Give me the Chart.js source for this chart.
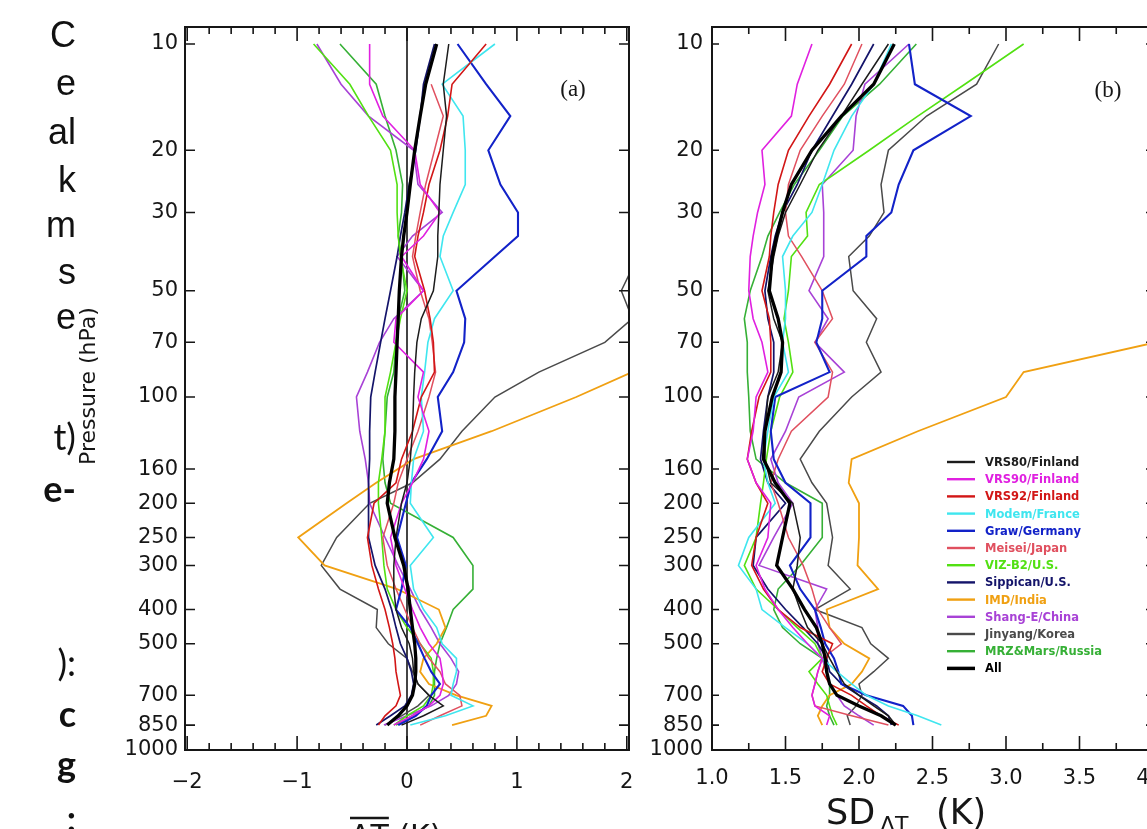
<!DOCTYPE html>
<html>
<head>
<meta charset="utf-8">
<title>Radiosonde temperature bias and SD profiles</title>
<script src="https://cdn.jsdelivr.net/npm/chart.js@4.4.1/dist/chart.umd.min.js"></script>
<style>
  html, body { margin: 0; padding: 0; background: #fff; }
  #page { position: relative; width: 1147px; height: 829px; overflow: hidden; background: #fff; }
  #chartA { position: absolute; left: 0; top: 0; }
  #chartB { position: absolute; left: 640px; top: 0; }
  .frag { position: absolute; right: 1071px; white-space: nowrap; color: #111; font-size: 36px; line-height: 36px; }
  .sans { font-family: "Liberation Sans", Arial, sans-serif; }
  .cal { font-family: Lato, "Open Sans", sans-serif; }
  .b { font-weight: 700; }
</style>
</head>
<body>
<div id="page">
  <canvas id="chartA" width="660" height="829"></canvas>
  <canvas id="chartB" width="560" height="829"></canvas>

  <!-- tail ends of the neighbouring text column -->
  <div class="frag sans" style="top:17px">C</div>
  <div class="frag sans" style="top:65px">e</div>
  <div class="frag sans" style="top:114px">al</div>
  <div class="frag sans" style="top:162px">k</div>
  <div class="frag sans" style="top:207px">m</div>
  <div class="frag sans" style="top:254px">s</div>
  <div class="frag sans" style="top:299px">e</div>
  <div class="frag cal" style="top:418px">t)</div>
  <div class="frag cal b" style="top:470px">e-</div>
  <div class="frag cal" style="top:644px">):</div>
  <div class="frag cal b" style="top:695px">c</div>
  <div class="frag cal b" style="top:745px">g</div>
  <div class="frag cal b" style="top:800px">:</div>
</div>

<script>
// pressure levels (hPa) shared by every profile
const pressureLevels = [10, 13, 16, 20, 25, 30, 35, 40, 50, 60, 70, 85, 100, 125, 150, 175, 200, 250, 300, 350, 400, 450, 500, 550, 600, 650, 700, 750, 800, 850];
const pressureTicks = [10, 20, 30, 50, 70, 100, 160, 200, 250, 300, 400, 500, 700, 850, 1000];
const biasTicks = [-2, -1, 0, 1, 2];
const sdTicks = [1.0, 1.5, 2.0, 2.5, 3.0, 3.5, 4.0];

const sondeNames = ['VRS80/Finland', 'VRS90/Finland', 'VRS92/Finland', 'Modem/France', 'Graw/Germany', 'Meisei/Japan',
  'VIZ-B2/U.S.', 'Sippican/U.S.', 'IMD/India', 'Shang-E/China', 'Jinyang/Korea', 'MRZ&Mars/Russia', 'All'];
const sondeColors = ['#1c1c1c', '#e020e0', '#d21616', '#3fe6ef', '#1222c8', '#e0505f',
  '#52e012', '#14146a', '#f0a012', '#a842d6', '#4a4a4a', '#36b036', '#000000'];
const sondeWidths = [1.5, 1.6, 1.6, 1.6, 2.1, 1.5, 1.6, 1.7, 1.8, 1.6, 1.5, 1.6, 3.3];

// (a) mean temperature difference, K
const biasVRS80    = [0.38, 0.33, 0.36, 0.33, 0.30, 0.29, 0.28, 0.28, 0.24, 0.13, 0.09, 0.07, 0.06, 0.05, 0.03, 0.00, -0.05, -0.10, -0.12, -0.12, -0.10, -0.05, 0.02, 0.05, 0.06, 0.10, 0.20, 0.33, 0.15, -0.05];
const biasVRS90    = [-0.34, -0.34, -0.22, 0.07, 0.12, 0.30, 0.15, -0.05, 0.15, -0.10, -0.12, 0.15, 0.10, 0.20, 0.15, 0.05, -0.05, -0.15, -0.10, -0.02, 0.05, 0.12, 0.20, 0.30, 0.32, 0.33, 0.30, 0.20, 0.05, -0.12];
const biasVRS92    = [0.72, 0.41, 0.37, 0.30, 0.20, 0.15, 0.10, 0.07, 0.16, 0.21, 0.24, 0.25, 0.13, 0.05, -0.05, -0.10, -0.30, -0.36, -0.32, -0.26, -0.20, -0.16, -0.13, -0.11, -0.10, -0.08, -0.06, -0.10, -0.20, -0.26];
const biasModem    = [0.80, 0.32, 0.51, 0.53, 0.53, 0.42, 0.33, 0.30, 0.42, 0.25, 0.19, 0.16, 0.13, 0.15, 0.06, 0.04, 0.03, 0.24, 0.03, 0.06, 0.15, 0.27, 0.32, 0.45, 0.45, 0.42, 0.40, 0.60, 0.35, 0.03];
const biasGraw     = [0.46, 0.72, 0.94, 0.74, 0.85, 1.01, 1.01, 0.80, 0.45, 0.53, 0.52, 0.42, 0.28, 0.32, 0.18, 0.04, -0.01, -0.09, -0.01, -0.05, -0.10, 0.03, 0.10, 0.16, 0.22, 0.30, 0.22, 0.18, 0.08, -0.08];
const biasMeisei   = [null, 0.22, 0.33, 0.25, 0.17, 0.12, 0.08, 0.05, 0.12, 0.20, 0.23, 0.26, 0.20, 0.10, 0.00, -0.08, -0.12, -0.22, -0.18, -0.10, -0.02, 0.05, 0.12, 0.20, 0.30, 0.35, 0.48, 0.50, 0.30, 0.12];
const biasVIZ      = [-0.85, -0.52, -0.35, -0.15, -0.09, -0.09, -0.08, -0.06, 0.00, -0.06, -0.10, -0.15, -0.20, -0.20, -0.23, -0.26, -0.26, -0.23, -0.21, -0.18, -0.10, 0.00, 0.12, 0.22, 0.24, 0.24, 0.22, 0.15, 0.00, -0.12];
const biasSippican = [0.25, 0.15, 0.12, 0.08, 0.02, -0.02, -0.06, -0.09, -0.15, -0.20, -0.24, -0.29, -0.33, -0.34, -0.34, -0.35, -0.35, -0.35, -0.29, -0.20, -0.14, -0.10, -0.06, 0.00, 0.04, 0.06, 0.04, -0.02, -0.15, -0.28];
const biasIMD      = [2.60, 2.60, 2.60, 2.60, 2.60, 2.60, 2.60, 2.60, 2.60, 2.60, 2.45, 2.05, 1.54, 0.77, 0.06, -0.28, -0.55, -0.99, -0.75, -0.09, 0.29, 0.35, 0.27, 0.15, 0.12, 0.20, 0.45, 0.77, 0.72, 0.41];
const biasShang    = [-0.82, -0.60, -0.35, 0.06, 0.10, 0.32, 0.05, -0.09, 0.15, -0.12, -0.25, -0.36, -0.46, -0.43, -0.38, -0.35, -0.34, -0.20, -0.08, 0.03, 0.12, 0.22, 0.30, 0.40, 0.47, 0.45, 0.38, 0.22, 0.00, -0.21];
const biasJinyang  = [2.60, 2.50, 2.40, 2.30, 2.30, 2.20, 2.20, 2.10, 1.95, 2.05, 1.80, 1.20, 0.80, 0.50, 0.30, 0.05, -0.34, -0.64, -0.78, -0.61, -0.27, -0.28, -0.17, 0.00, 0.05, 0.10, 0.20, 0.10, -0.05, -0.20];
const biasMRZ      = [-0.61, -0.28, -0.20, -0.10, -0.04, -0.05, -0.08, -0.05, -0.02, -0.08, -0.10, -0.12, -0.18, -0.20, -0.22, -0.20, -0.15, 0.42, 0.60, 0.60, 0.42, 0.36, 0.30, 0.27, 0.25, 0.25, 0.25, 0.20, 0.05, -0.10];
const biasAll      = [0.27, 0.17, 0.12, 0.07, 0.03, 0.00, -0.03, -0.05, -0.07, -0.08, -0.09, -0.10, -0.11, -0.11, -0.12, -0.16, -0.18, -0.11, -0.03, 0.01, 0.03, 0.05, 0.07, 0.08, 0.08, 0.07, 0.05, 0.00, -0.08, -0.18];

// (b) standard deviation of the difference, K
const sdVRS80    = [2.20, 2.02, 1.88, 1.72, 1.60, 1.50, 1.45, 1.42, 1.38, 1.42, 1.48, 1.45, 1.38, 1.36, 1.36, 1.40, 1.55, 1.60, 1.58, 1.55, 1.60, 1.65, 1.75, 1.80, 1.85, 1.90, 2.00, 2.10, 2.20, 2.25];
const sdVRS90    = [1.68, 1.58, 1.54, 1.34, 1.36, 1.31, 1.28, 1.26, 1.25, 1.28, 1.34, 1.38, 1.30, 1.28, 1.24, 1.30, 1.40, 1.38, 1.30, 1.36, 1.45, 1.55, 1.65, 1.75, 1.72, 1.70, 1.68, 1.70, 1.80, 1.78];
const sdVRS92    = [1.95, 1.80, 1.66, 1.52, 1.45, 1.42, 1.40, 1.39, 1.34, 1.39, 1.40, 1.40, 1.32, 1.27, 1.24, 1.30, 1.38, 1.30, 1.27, 1.35, 1.45, 1.60, 1.82, 1.78, 1.75, 1.80, 1.95, 2.05, 2.15, 2.27];
const sdModem    = [2.22, 2.10, 1.95, 1.83, 1.75, 1.68, 1.55, 1.48, 1.50, 1.50, 1.48, 1.52, 1.42, 1.38, 1.35, 1.38, 1.43, 1.25, 1.18, 1.30, 1.34, 1.50, 1.65, 1.75, 1.85, 1.95, 2.05, 2.20, 2.40, 2.56];
const sdGraw     = [2.34, 2.38, 2.76, 2.37, 2.27, 2.22, 2.05, 2.05, 1.75, 1.75, 1.71, 1.80, 1.43, 1.40, 1.42, 1.50, 1.67, 1.67, 1.53, 1.60, 1.70, 1.74, 1.77, 1.83, 1.86, 1.88, 2.05, 2.30, 2.36, 2.37];
const sdMeisei   = [2.02, 1.90, 1.75, 1.60, 1.52, 1.50, 1.52, 1.61, 1.75, 1.82, 1.70, 1.82, 1.79, 1.54, 1.45, 1.40, 1.45, 1.52, 1.62, 1.68, 1.72, 1.80, 1.88, 1.75, 1.72, 1.70, 1.68, 1.70, 1.95, 2.20];
const sdVIZ      = [3.12, 2.72, 2.40, 2.07, 1.73, 1.64, 1.65, 1.54, 1.52, 1.49, 1.52, 1.55, 1.46, 1.40, 1.37, 1.35, 1.33, 1.30, 1.22, 1.30, 1.45, 1.58, 1.70, 1.75, 1.66, 1.72, 1.78, 1.80, 1.82, 1.85];
const sdSippican = [2.10, 1.95, 1.82, 1.68, 1.58, 1.48, 1.43, 1.40, 1.36, 1.38, 1.42, 1.42, 1.38, 1.35, 1.33, 1.38, 1.50, 1.30, 1.28, 1.38, 1.50, 1.62, 1.72, 1.78, 1.80, 1.88, 2.00, 2.12, 2.20, 2.22];
const sdIMD      = [4.30, 4.30, 4.30, 4.30, 4.30, 4.30, 4.30, 4.30, 4.30, 4.20, 4.02, 3.12, 3.00, 2.40, 1.95, 1.93, 2.00, 2.00, 1.99, 2.13, 1.78, 1.80, 1.90, 2.07, 2.02, 1.95, 1.80, 1.75, 1.72, 1.75];
const sdShang    = [2.34, 2.04, 1.98, 1.96, 1.75, 1.76, 1.76, 1.76, 1.66, 1.79, 1.70, 1.90, 1.59, 1.50, 1.40, 1.45, 1.55, 1.42, 1.32, 1.78, 1.70, 1.72, 1.72, 1.75, 1.78, 1.80, 1.85, 1.90, 2.00, 2.10];
const sdJinyang  = [2.95, 2.80, 2.46, 2.20, 2.15, 2.17, 2.07, 1.93, 1.96, 2.12, 2.05, 2.15, 1.95, 1.73, 1.60, 1.68, 1.78, 1.82, 1.79, 1.94, 1.70, 2.02, 2.08, 2.20, 2.10, 2.00, 2.02, 1.98, 1.92, 1.94];
const sdMRZ      = [2.39, 2.14, 1.89, 1.73, 1.56, 1.46, 1.38, 1.34, 1.26, 1.22, 1.24, 1.24, 1.25, 1.26, 1.30, 1.50, 1.75, 1.75, 1.60, 1.45, 1.42, 1.48, 1.60, 1.75, 1.78, 1.80, 1.80, 1.78, 1.80, 1.83];
const sdAll      = [2.24, 2.10, 1.88, 1.68, 1.54, 1.48, 1.44, 1.41, 1.39, 1.45, 1.48, 1.47, 1.41, 1.36, 1.35, 1.43, 1.53, 1.48, 1.44, 1.55, 1.63, 1.71, 1.75, 1.77, 1.78, 1.80, 1.85, 2.00, 2.15, 2.25];

const biasSeries = [biasVRS80, biasVRS90, biasVRS92, biasModem, biasGraw, biasMeisei, biasVIZ, biasSippican, biasIMD, biasShang, biasJinyang, biasMRZ, biasAll];
const sdSeries = [sdVRS80, sdVRS90, sdVRS92, sdModem, sdGraw, sdMeisei, sdVIZ, sdSippican, sdIMD, sdShang, sdJinyang, sdMRZ, sdAll];

const tickFont = { family: 'DejaVu Sans', size: 21 };
const ink = '#161616';

function buildDatasets(series) {
  return series.map((vals, i) => ({
    label: sondeNames[i],
    data: pressureLevels.map((p, k) => ({ x: vals[k], y: p })).filter(d => d.x !== null),
    borderColor: sondeColors[i],
    backgroundColor: sondeColors[i],
    borderWidth: sondeWidths[i],
    showLine: true,
    pointRadius: 0,
    tension: 0,
    fill: false,
    // the "All" curve goes on top
    order: i === series.length - 1 ? 0 : 1
  }));
}

// box with inward tick marks on all four sides
function frameTicks(xStart, xEnd, step, majorEvery, yTickLen) {
  return {
    id: 'frameTicks',
    afterDatasetsDraw(chart) {
      const { ctx, chartArea: a, scales: { x, y } } = chart;
      ctx.save();
      ctx.strokeStyle = ink;
      ctx.lineWidth = 2;
      ctx.strokeRect(a.left, a.top, a.right - a.left, a.bottom - a.top);
      ctx.lineWidth = 1.6;
      ctx.beginPath();
      const n = Math.round((xEnd - xStart) / step);
      for (let i = 0; i <= n; i++) {
        const px = x.getPixelForValue(xStart + i * step);
        const len = i % majorEvery === 0 ? 14 : 7;
        ctx.moveTo(px, a.bottom); ctx.lineTo(px, a.bottom - len);
        ctx.moveTo(px, a.top); ctx.lineTo(px, a.top + len);
      }
      pressureTicks.forEach(p => {
        const py = y.getPixelForValue(p);
        ctx.moveTo(a.left, py); ctx.lineTo(a.left + yTickLen, py);
        ctx.moveTo(a.right, py); ctx.lineTo(a.right - yTickLen, py);
      });
      ctx.stroke();
      ctx.restore();
    }
  };
}

const zeroLine = {
  id: 'zeroLine',
  beforeDatasetsDraw(chart) {
    const { ctx, chartArea: a, scales: { x } } = chart;
    const px = x.getPixelForValue(0);
    ctx.save();
    ctx.strokeStyle = ink;
    ctx.lineWidth = 1.6;
    ctx.beginPath();
    ctx.moveTo(px, a.top); ctx.lineTo(px, a.bottom);
    ctx.stroke();
    ctx.restore();
  }
};

const biasDecor = {
  id: 'biasDecor',
  afterDraw(chart) {
    const { ctx, chartArea: a } = chart;
    ctx.save();
    ctx.fillStyle = ink;
    ctx.font = '23px "Liberation Serif"';
    ctx.textAlign = 'center';
    ctx.textBaseline = 'middle';
    ctx.fillText('(a)', a.right - 56, a.top + 63);

    // y title
    ctx.save();
    ctx.translate(89, 386);
    ctx.rotate(-Math.PI / 2);
    ctx.font = '22px "DejaVu Sans"';
    ctx.fillText('Pressure (hPa)', 0, 0);
    ctx.restore();

    // x title, overlined mean difference (runs off the bottom edge)
    ctx.textAlign = 'left';
    ctx.textBaseline = 'alphabetic';
    ctx.font = '30px "DejaVu Sans"';
    const tx = 350, base = 846;
    const w = ctx.measureText('ΔT').width;
    ctx.fillText('ΔT (K)', tx, base);
    ctx.lineWidth = 2.4;
    ctx.strokeStyle = ink;
    ctx.beginPath();
    ctx.moveTo(tx, 818); ctx.lineTo(tx + w, 818);
    ctx.stroke();
    ctx.restore();
  }
};

const sdDecor = {
  id: 'sdDecor',
  afterDraw(chart) {
    const { ctx, chartArea: a } = chart;
    ctx.save();
    ctx.fillStyle = ink;
    ctx.font = '23px "Liberation Serif"';
    ctx.textAlign = 'center';
    ctx.textBaseline = 'middle';
    ctx.fillText('(b)', a.left + 396, a.top + 64);

    // x title: SD with subscript ΔT
    ctx.textAlign = 'left';
    ctx.textBaseline = 'alphabetic';
    ctx.font = '35px "DejaVu Sans"';
    ctx.fillText('SD', 186, 824);
    ctx.font = '22px "DejaVu Sans"';
    ctx.fillText('ΔT', 240, 832);
    ctx.font = '35px "DejaVu Sans"';
    ctx.fillText('(K)', 296, 824);

    // legend
    const lx = a.left + 235;
    ctx.font = 'bold 11.5px "DejaVu Sans"';
    ctx.textBaseline = 'middle';
    chart.data.datasets.forEach((ds, i) => {
      const ly = 462 + i * 17.2;
      ctx.strokeStyle = ds.borderColor;
      ctx.lineWidth = i === chart.data.datasets.length - 1 ? 3.5 : 2.4;
      ctx.beginPath();
      ctx.moveTo(lx, ly); ctx.lineTo(lx + 28, ly);
      ctx.stroke();
      ctx.fillStyle = ds.borderColor;
      ctx.fillText(ds.label, lx + 38, ly + 1);
    });
    ctx.restore();
  }
};

function profileOptions(cfg) {
  return {
    responsive: false,
    animation: false,
    events: [],
    layout: { padding: { top: 27, right: cfg.padRight, bottom: 0, left: 0 } },
    plugins: { legend: { display: false }, tooltip: { enabled: false } },
    scales: {
      x: {
        type: 'linear',
        min: cfg.xMin,
        max: cfg.xMax,
        grid: { display: false, drawTicks: false },
        border: { display: false },
        afterBuildTicks: s => { s.ticks = cfg.xTicks.map(v => ({ value: v })); },
        afterFit: s => { s.height = 79; },
        ticks: { autoSkip: false, maxRotation: 0, padding: cfg.xPad, color: ink, font: tickFont, callback: cfg.xFormat }
      },
      y: {
        type: 'logarithmic',
        reverse: true,
        min: 8.95,
        max: 1000,
        grid: { display: false, drawTicks: false },
        border: { display: false },
        afterBuildTicks: s => { s.ticks = pressureTicks.map(v => ({ value: v })); },
        afterFit: s => { s.width = cfg.yWidth; },
        ticks: { autoSkip: false, padding: cfg.yPad, color: ink, font: tickFont, callback: v => String(v) }
      }
    }
  };
}

new Chart(document.getElementById('chartA'), {
  type: 'scatter',
  data: { datasets: buildDatasets(biasSeries) },
  options: profileOptions({
    xMin: -2.02, xMax: 2.02, xTicks: biasTicks, padRight: 31, yWidth: 185, yPad: 7, xPad: 20,
    xFormat: v => (v < 0 ? '\u2212' + Math.abs(v) : String(v))
  }),
  plugins: [zeroLine, frameTicks(-2, 2, 0.2, 5, 10), biasDecor]
});

new Chart(document.getElementById('chartB'), {
  type: 'scatter',
  data: { datasets: buildDatasets(sdSeries) },
  options: profileOptions({
    xMin: 1.0, xMax: 4.0, xTicks: sdTicks, padRight: 47, yWidth: 72, yPad: 9, xPad: 16,
    xFormat: v => v.toFixed(1)
  }),
  plugins: [frameTicks(1, 4, 0.25, 2, 7), sdDecor]
});
</script>
</body>
</html>
